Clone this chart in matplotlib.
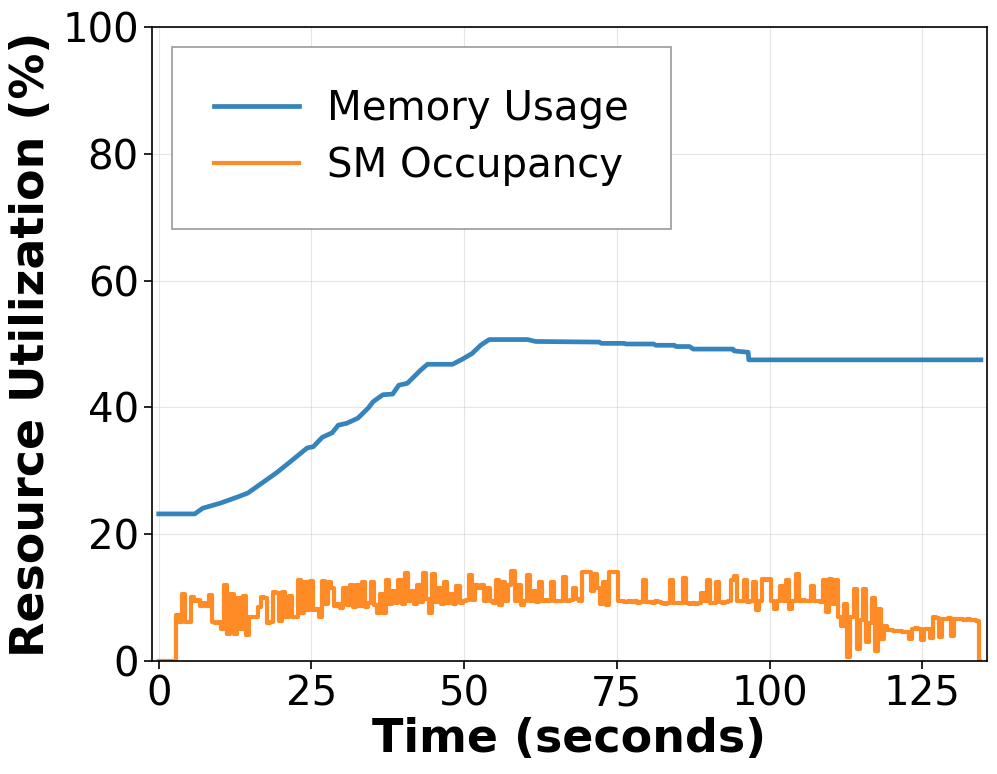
import numpy as np
import matplotlib
matplotlib.use("Agg")
import matplotlib.pyplot as plt

# ---- Data ----
mem_t = [0, 5.9, 7.2, 10.1, 13.0, 14.6, 17.1, 19.3, 21.5, 22.9, 24.3, 25.3, 26.8,
         28.4, 29.4, 30.8, 32.6, 34.3, 35.1, 36.7, 38.3, 39.3, 40.7, 42.9, 44.0,
         48.1, 49.7, 51.3, 52.7, 54.1, 60.4, 61.7, 72.1, 72.5, 76.2, 76.5, 81.0,
         81.4, 84.4, 84.7, 86.9, 87.5, 94.0, 94.2, 96.5, 96.6, 134.6]
mem_v = [23.2, 23.2, 24.1, 24.9, 25.9, 26.5, 28.2, 29.7, 31.4, 32.5, 33.6, 33.8, 35.3,
         36.0, 37.2, 37.5, 38.3, 39.9, 40.9, 42.0, 42.1, 43.5, 43.8, 45.9, 46.8,
         46.8, 47.6, 48.5, 49.8, 50.7, 50.7, 50.4, 50.3, 50.1, 50.1, 50.0, 50.0,
         49.8, 49.8, 49.6, 49.6, 49.2, 49.2, 48.9, 48.7, 47.5, 47.5]

sm_step = 0.5
sm_v = [
    0, 0, 0, 0, 0, 0, 7.2, 6.2, 10.6, 6.2,
    6.2, 10.1, 9.4, 9.6, 8.7, 9.2, 8.6, 10.4, 6.1, 6.0,
    6.2, 5.0, 12.0, 4.3, 10.5, 4.2, 10.0, 5.0, 10.2, 4.1,
    7.0, 6.9, 6.9, 8.5, 10.1, 10.0, 6.0, 6.1, 10.9, 10.8,
    6.3, 10.9, 7.0, 10.3, 6.9, 7.0, 12.8, 7.5, 12.5, 8.0,
    12.6, 8.0, 8.2, 7.0, 12.6, 9.0, 12.4, 11.5, 8.6, 9.0,
    8.4, 11.5, 8.8, 12.0, 8.5, 12.0, 8.6, 12.5, 8.5, 9.2,
    12.4, 8.8, 7.5, 10.5, 7.5, 12.8, 9.0, 11.0, 9.2, 12.8,
    9.0, 13.9, 9.5, 11.0, 9.0, 12.0, 9.3, 13.9, 9.8, 7.5,
    13.8, 9.3, 11.5, 9.0, 12.5, 9.2, 10.5, 9.0, 11.8, 9.2,
    9.4, 9.6, 13.5, 9.6, 12.0, 11.5, 12.0, 9.5, 11.5, 9.4,
    9.2, 12.8, 8.8, 12.5, 9.4, 12.0, 14.2, 9.4, 12.0, 8.8,
    9.5, 13.5, 9.4, 11.0, 9.3, 12.5, 9.4, 9.6, 9.4, 12.5,
    9.4, 9.4, 9.5, 13.2, 9.5, 9.6, 11.5, 9.8, 9.4, 14.1,
    14.1, 14.0, 11.0, 13.8, 11.5, 9.0, 12.5, 8.8, 14.1, 14.1,
    14.0, 9.5, 9.4, 9.3, 9.4, 9.3, 9.4, 9.2, 9.3, 12.7,
    9.3, 9.3, 9.2, 9.4, 9.3, 9.2, 9.0, 9.1, 12.7, 9.2,
    9.1, 9.2, 13.1, 9.2, 9.0, 9.1, 9.0, 9.2, 10.7, 9.4,
    12.7, 9.2, 9.1, 12.4, 9.3, 9.2, 9.3, 9.4, 12.7, 13.4,
    9.4, 9.5, 12.7, 9.3, 9.5, 12.4, 8.0, 9.4, 13.0, 12.8,
    12.9, 9.4, 8.2, 9.5, 11.8, 9.4, 12.7, 8.2, 9.5, 13.7,
    9.5, 9.6, 9.4, 9.5, 11.8, 9.5, 9.4, 9.3, 12.7, 7.8,
    12.9, 9.0, 12.7, 7.0, 5.5, 9.0, 0.7, 7.0, 11.3, 1.9,
    6.5, 11.3, 3.0, 6.0, 10.0, 1.6, 8.2, 3.5, 5.5, 4.9,
    4.9, 4.8, 4.8, 4.7, 4.6, 4.5, 3.4, 5.1, 5.2, 5.0,
    3.3, 5.1, 5.0, 3.6, 7.0, 6.8, 3.8, 6.7, 6.6, 6.8,
    3.9, 6.7, 6.6, 6.7, 6.4, 6.6, 6.5, 6.4, 6.3, 0.0,
]
sm_t = np.arange(len(sm_v)) * sm_step

x_ticks = [0, 25, 50, 75, 100, 125]
y_ticks = [0, 20, 40, 60, 80, 100]

# ---- Plot ----
fig = plt.figure(figsize=(9.97, 7.74), dpi=100)
ax = fig.add_axes([152 / 997, 1 - 661 / 774, 835 / 997, 634 / 774])

ax.plot(mem_t, mem_v, color='#1f77b4', alpha=0.9, lw=3.4, label='Memory Usage')
ax.plot(sm_t, sm_v, color='#ff7f0e', alpha=0.9, lw=3.0, drawstyle='steps-mid',
        label='SM Occupancy')

ax.set_xlim(-1.1, 135.6)
ax.set_ylim(0, 100)
ax.set_xticks(x_ticks)
ax.set_yticks(y_ticks)
ax.tick_params(axis='both', labelsize=29, length=6, width=1.2, colors='black')
ax.grid(True, color='#cccccc', alpha=0.5, lw=0.8)
for s in ax.spines.values():
    s.set_color('black')
    s.set_linewidth(1.2)

ax.set_xlabel('Time (seconds)', fontsize=33, fontweight='bold', labelpad=2)
ax.set_ylabel('Resource Utilization (%)', fontsize=33, fontweight='bold', labelpad=6)

leg = ax.legend(loc='upper left', fontsize=29, borderpad=1.05, labelspacing=0.42,
                handlelength=2.1, handletextpad=0.7, borderaxespad=0.5,
                fancybox=False, framealpha=1.0, edgecolor='#999999')
leg.get_frame().set_linewidth(1.2)

fig.savefig('out.png', dpi=100)
